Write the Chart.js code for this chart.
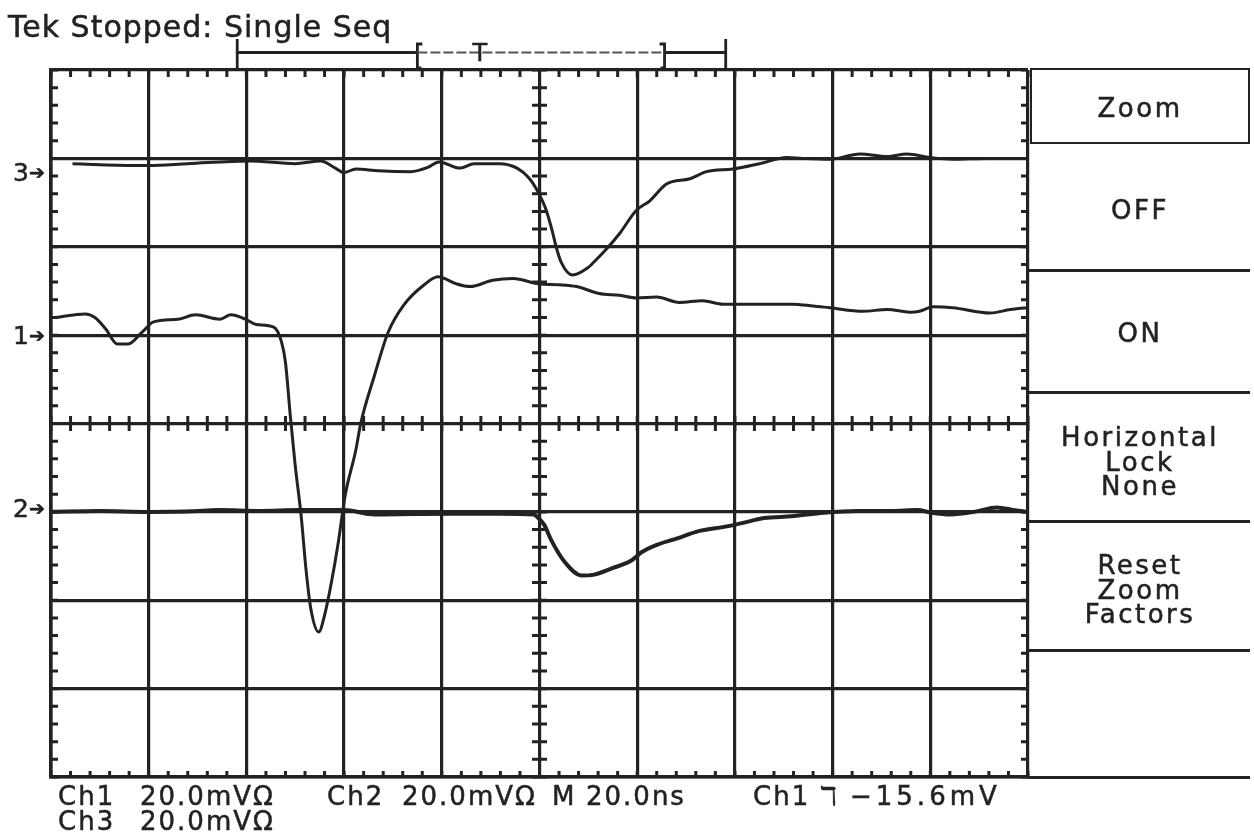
<!DOCTYPE html>
<html lang="en">
<head>
  <meta charset="UTF-8">
  <title>Tek Stopped: Single Seq</title>
  <script src="https://cdn.jsdelivr.net/npm/chart.js"></script>
  <style>
    body {
      margin: 0;
      background: #fff;
    }
    #scope {
      position: relative;
      width: 1254px;
      height: 835px;
      color: #222;
      font-family: "DejaVu Sans", sans-serif;
      -webkit-text-stroke: 0.5px #222;
    }
    #scope canvas {
      position: absolute;
      left: 0;
      top: 0;
    }
    .lbl {
      position: absolute;
      white-space: nowrap;
      line-height: 1;
    }
    .title {
      left: 8px;
      top: 12px;
      font-size: 30px;
      letter-spacing: 1px;
    }
    .readout {
      font-size: 26px;
      letter-spacing: 2px;
    }
    .chmark {
      font-size: 25px;
      left: 13px;
    }
    .chmark .arr {
      font-size: 19px;
      vertical-align: 2px;
    }
    .menu {
      position: absolute;
      left: 1030px;
      width: 220px;
      text-align: center;
      font-size: 26px;
      letter-spacing: 2.5px;
      line-height: 24.5px;
    }
    .zoombox {
      position: absolute;
      left: 1030px;
      top: 68px;
      width: 216px;
      height: 72px;
      border: 2.5px solid #222;
    }
    .sep {
      position: absolute;
      left: 1028px;
      width: 222px;
      height: 2.5px;
      background: #222;
    }
  </style>
</head>
<body>
  <div id="scope">
    <canvas id="scopeChart" width="1254" height="835"></canvas>

    <div class="lbl title">Tek Stopped: Single Seq</div>

    <div class="zoombox"></div>
    <div class="menu" style="top:96px">Zoom</div>
    <div class="menu" style="top:198px">OFF</div>
    <div class="sep" style="top:269px"></div>
    <div class="menu" style="top:321px">ON</div>
    <div class="sep" style="top:391px"></div>
    <div class="menu" style="top:425px">Horizontal<br>Lock<br>None</div>
    <div class="sep" style="top:520px"></div>
    <div class="menu" style="top:553px">Reset<br>Zoom<br>Factors</div>
    <div class="sep" style="top:649px"></div>
    <div class="sep" style="top:776px; height:3px"></div>

    <div class="lbl readout" style="left:58px; top:783px">Ch1</div>
    <div class="lbl readout" style="left:140px; top:783px">20.0mVΩ</div>
    <div class="lbl readout" style="left:327px; top:783px">Ch2</div>
    <div class="lbl readout" style="left:402px; top:783px">20.0mVΩ</div>
    <div class="lbl readout" style="left:552px; top:783px">M</div>
    <div class="lbl readout" style="left:586px; top:783px">20.0ns</div>
    <div class="lbl readout" style="left:753px; top:783px">Ch1</div>
    <div class="lbl readout" style="left:820px; top:783px">ℸ</div>
    <div class="lbl readout" style="left:850px; top:783px; letter-spacing:4px">−15.6mV</div>
    <div class="lbl readout" style="left:58px; top:808px">Ch3</div>
    <div class="lbl readout" style="left:140px; top:808px">20.0mVΩ</div>
  </div>

  <script>
    // graticule units: 10 horizontal divisions (20 ns/div), 8 vertical divisions (20 mV/div)
    const ch1Time = [0.05, 0.35, 0.45, 0.56, 0.68, 0.79, 0.93, 1.05, 1.30, 1.48,
      1.73, 1.84, 1.99, 2.10, 2.28, 2.36, 2.40, 2.45, 2.50, 2.56,
      2.61, 2.66, 2.74, 2.80, 2.87, 2.94, 3.01, 3.12, 3.17, 3.31,
      3.45, 3.61, 3.82, 3.96, 4.15, 4.29, 4.52, 4.73, 4.99, 5.20,
      5.38, 5.61, 5.82, 5.99, 6.20, 6.43, 6.67, 6.88, 7.25, 7.59,
      7.80, 7.97, 8.31, 8.56, 8.79, 8.89, 9.03, 9.23, 9.61, 9.82, 9.99];
    const ch1Level = [1.20, 1.24, 1.20, 1.07, 0.90, 0.90, 1.03, 1.15, 1.18, 1.23,
      1.18, 1.23, 1.18, 1.12, 1.09, 0.92, 0.69, 0.08, -0.48, -1.04,
      -1.65, -2.10, -2.36, -2.17, -1.80, -1.35, -0.82, -0.30, 0.00, 0.54,
      1.03, 1.34, 1.57, 1.66, 1.58, 1.55, 1.62, 1.64, 1.58, 1.57,
      1.55, 1.47, 1.45, 1.42, 1.43, 1.37, 1.39, 1.35, 1.35, 1.35,
      1.33, 1.31, 1.27, 1.29, 1.26, 1.27, 1.32, 1.31, 1.25, 1.29, 1.31];

    const ch2Time = [0.00, 0.49, 1.00, 1.52, 1.72, 2.13, 2.54, 3.00, 3.31, 4.08,
      4.59, 4.94, 4.98, 5.05, 5.12, 5.26, 5.43, 5.56, 5.74, 5.94,
      6.04, 6.21, 6.41, 6.62, 6.89, 7.06, 7.30, 7.58, 7.91, 8.25,
      8.60, 8.87, 9.01, 9.21, 9.45, 9.68, 9.86, 9.99];
    const ch2Level = [-1.00, -0.99, -1.00, -0.99, -0.98, -0.99, -0.98, -0.98, -1.03, -1.02,
      -1.02, -1.03, -1.06, -1.15, -1.32, -1.57, -1.72, -1.71, -1.64, -1.55,
      -1.46, -1.37, -1.30, -1.22, -1.17, -1.13, -1.07, -1.05, -1.01, -0.99,
      -0.99, -0.98, -1.01, -1.03, -1.00, -0.95, -0.98, -1.00];

    const ch3Time = [0.22, 0.86, 1.00, 1.40, 2.03, 2.50, 2.76, 2.91, 3.00, 3.12,
      3.35, 3.68, 3.86, 3.97, 4.19, 4.33, 4.59, 4.77, 4.89, 4.99,
      5.06, 5.13, 5.17, 5.22, 5.34, 5.48, 5.56, 5.69, 5.82, 5.99,
      6.13, 6.30, 6.54, 6.71, 6.98, 7.25, 7.53, 7.69, 7.97, 8.28,
      8.56, 8.76, 9.00, 9.23, 9.58, 9.92];
    const ch3Level = [2.94, 2.92, 2.92, 2.94, 2.97, 2.94, 2.97, 2.89, 2.84, 2.88,
      2.86, 2.85, 2.90, 2.96, 2.89, 2.94, 2.94, 2.89, 2.78, 2.61,
      2.44, 2.18, 2.00, 1.83, 1.68, 1.75, 1.83, 1.98, 2.15, 2.41,
      2.52, 2.71, 2.77, 2.85, 2.88, 2.94, 3.01, 3.00, 2.99, 3.05,
      3.02, 3.05, 3.01, 2.99, 3.00, 3.00];

    // ground reference arrows on the left edge
    const channelNames = ['3', '1', '2'];
    const channelGround = [2.82, 0.98, -0.98];

    // record window, zoom window and trigger point above the graticule
    const recordWindow = [1.906, 6.906];
    const zoomWindow = [3.75, 6.28];
    const triggerPoint = 4.385;

    const INK = '#222';

    function toPoints(xs, ys) {
      return xs.map((x, i) => ({ x: x, y: ys[i] }));
    }

    // minor ticks on the centre axes and along the frame, every 1/5 division
    const graticuleTicks = {
      id: 'graticuleTicks',
      beforeDatasetsDraw(chart) {
        const { ctx, chartArea: a, scales: { x, y } } = chart;
        const cx = x.getPixelForValue(5);
        const cy = y.getPixelForValue(0);
        ctx.save();
        ctx.strokeStyle = INK;
        ctx.lineWidth = 3;
        ctx.beginPath();
        for (let i = 0; i <= 50; i++) {
          const px = x.getPixelForValue(i / 5);
          ctx.moveTo(px, cy - 7.5); ctx.lineTo(px, cy + 7.5);
          ctx.moveTo(px, a.top); ctx.lineTo(px, a.top + 7);
          ctx.moveTo(px, a.bottom); ctx.lineTo(px, a.bottom - 6);
        }
        for (let i = 0; i <= 40; i++) {
          const py = y.getPixelForValue(-4 + i / 5);
          ctx.moveTo(cx - 7.5, py); ctx.lineTo(cx + 7.5, py);
          ctx.moveTo(a.left, py); ctx.lineTo(a.left + 7, py);
          ctx.moveTo(a.right, py); ctx.lineTo(a.right - 7, py);
        }
        ctx.stroke();
        ctx.restore();
      }
    };

    // record/zoom window bracket drawn above the top edge
    const windowBracket = {
      id: 'windowBracket',
      afterDraw(chart) {
        const { ctx, chartArea: a, scales: { x } } = chart;
        const r0 = x.getPixelForValue(recordWindow[0]);
        const r1 = x.getPixelForValue(recordWindow[1]);
        const z0 = x.getPixelForValue(zoomWindow[0]);
        const z1 = x.getPixelForValue(zoomWindow[1]);
        const ly = a.top - 17.5;
        ctx.save();
        ctx.strokeStyle = INK;
        ctx.lineWidth = 2.8;
        ctx.beginPath();
        ctx.moveTo(r0, a.top - 31); ctx.lineTo(r0, a.top);
        ctx.moveTo(r1, a.top - 31); ctx.lineTo(r1, a.top);
        ctx.moveTo(r0, ly); ctx.lineTo(z0, ly);
        ctx.moveTo(z1, ly); ctx.lineTo(r1, ly);
        // [ and ]
        ctx.moveTo(z0 + 5, a.top - 26); ctx.lineTo(z0, a.top - 26); ctx.lineTo(z0, a.top - 2); ctx.lineTo(z0 + 4, a.top - 2);
        ctx.moveTo(z1 - 5, a.top - 26); ctx.lineTo(z1, a.top - 26); ctx.lineTo(z1, a.top - 2); ctx.lineTo(z1 - 4, a.top - 2);
        ctx.stroke();
        ctx.lineWidth = 2;
        ctx.strokeStyle = '#555';
        ctx.setLineDash([10, 3]);
        ctx.beginPath();
        ctx.moveTo(z0, ly); ctx.lineTo(z1, ly);
        ctx.stroke();
        ctx.restore();
      }
    };

    function trace(label, xs, ys, width) {
      return {
        label: label,
        data: toPoints(xs, ys),
        borderColor: INK,
        borderWidth: width,
        pointRadius: 0,
        cubicInterpolationMode: 'monotone',
        fill: false
      };
    }

    const gridStyle = { color: INK, lineWidth: 3.2, drawTicks: false };

    const chart = new Chart(document.getElementById('scopeChart'), {
      type: 'line',
      data: {
        datasets: [
          trace('Ch1', ch1Time, ch1Level, 3),
          trace('Ch2', ch2Time, ch2Level, 4),
          trace('Ch3', ch3Time, ch3Level, 3)
        ]
      },
      options: {
        responsive: false,
        devicePixelRatio: 1,
        animation: false,
        layout: { padding: { left: 51, right: 226, top: 70, bottom: 58 } },
        plugins: {
          legend: { display: false },
          tooltip: { enabled: false }
        },
        scales: {
          x: {
            type: 'linear',
            min: 0,
            max: 10,
            ticks: { display: false, stepSize: 1 },
            grid: gridStyle,
            border: { color: INK, width: 3.6 }
          },
          y: {
            type: 'linear',
            min: -4,
            max: 4,
            ticks: { display: false, stepSize: 1 },
            grid: gridStyle,
            border: { color: INK, width: 3.6 }
          }
        }
      },
      plugins: [graticuleTicks, windowBracket]
    });

    // place the channel ground arrows and trigger mark from the scales
    const scope = document.getElementById('scope');
    channelNames.forEach((name, i) => {
      const el = document.createElement('div');
      el.className = 'lbl chmark';
      el.innerHTML = name + '<span class="arr">➔</span>';
      el.style.top = (chart.scales.y.getPixelForValue(channelGround[i]) - 14) + 'px';
      scope.appendChild(el);
    });
    const trig = document.createElement('div');
    trig.className = 'lbl';
    trig.style.fontSize = '24px';
    trig.textContent = 'T';
    trig.style.left = (chart.scales.x.getPixelForValue(triggerPoint) - 7) + 'px';
    trig.style.top = (chart.chartArea.top - 29) + 'px';
    scope.appendChild(trig);
  </script>
</body>
</html>
